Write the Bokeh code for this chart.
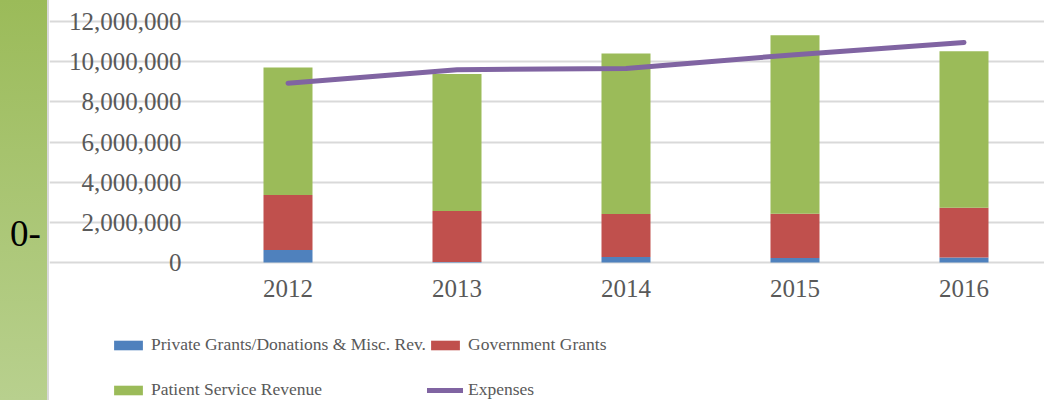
from bokeh.plotting import figure
from bokeh.layouts import row
from bokeh.models import (Range1d, FixedTicker, NumeralTickFormatter, Legend, LegendItem,
                          ColumnDataSource, Div)
from bokeh.embed import file_html
from bokeh.resources import INLINE

# ---- data ----
years = [2012, 2013, 2014, 2015, 2016]
private_grants = [620000, 30000, 280000, 230000, 250000]
government_grants = [2740000, 2530000, 2130000, 2200000, 2480000]
patient_service = [6350000, 6820000, 8000000, 8890000, 7790000]
expenses = [8930000, 9600000, 9660000, 10350000, 10960000]
y_ticks = [0, 2000000, 4000000, 6000000, 8000000, 10000000, 12000000]
series_names = ["Private Grants/Donations & Misc. Rev.", "Government Grants",
                "Patient Service Revenue", "Expenses"]
side_label = "0-"

colors = ["#4F81BD", "#C0504D", "#9BBB59"]
line_color = "#8064A2"
text_gray = "#595959"
grid_gray = "#D9D9D9"

# ---- layout constants (pixels) ----
STRIP_W = 49
FIG_W, FIG_H = 1044 - STRIP_W, 400
PLOT_LEFT, PLOT_TOP, PLOT_BOTTOM = 203 - STRIP_W, 21, 262   # inner plotting area inside the figure
CAT_STEP = 169                                               # pixels per category
y_max = y_ticks[-1]
y_per_px = y_max / (PLOT_BOTTOM - PLOT_TOP)
x0 = years[0] - 0.5
x_start = x0 - PLOT_LEFT / CAT_STEP
x_end = x0 + (FIG_W - PLOT_LEFT) / CAT_STEP
y_start = -(FIG_H - PLOT_BOTTOM) * y_per_px
y_end = y_max + PLOT_TOP * y_per_px

# ---- left decorative strip ----
left = Div(width=STRIP_W, height=FIG_H, margin=0,
           text=('<div style="position:absolute; left:10px; top:215px; font-family:\'Liberation Serif\';'
                 f' font-size:37px; line-height:1; color:black;">{side_label}</div>'),
           styles={"background": "linear-gradient(to bottom, rgb(155,187,89), rgb(184,208,142))",
                   "border-right": "2px solid #D9D9D9", "box-sizing": "border-box",
                   "margin": "0", "padding": "0", "overflow": "hidden"})

# ---- main chart ----
src = ColumnDataSource(dict(year=years, a=private_grants, b=government_grants,
                            c=patient_service, exp=expenses))
p = figure(width=FIG_W, height=FIG_H, margin=0,
           x_range=Range1d(x_start, x_end), y_range=Range1d(y_start, y_end),
           output_backend="svg", toolbar_location=None, min_border=0)
p.outline_line_color = None
bars = p.vbar_stack(["a", "b", "c"], x="year", width=0.29, source=src,
                    color=colors, line_color=None)
ln = p.line(x="year", y="exp", source=src, line_color=line_color, line_width=5,
            line_cap="round", line_join="round")

p.xaxis.ticker = FixedTicker(ticks=years)
p.yaxis.ticker = FixedTicker(ticks=y_ticks)
p.yaxis.formatter = NumeralTickFormatter(format="0,0")
p.xaxis.fixed_location = 0
p.yaxis.fixed_location = x0
for ax in (p.xaxis, p.yaxis):
    ax.axis_line_color = None
    ax.major_tick_line_color = None
    ax.minor_tick_line_color = None
    ax.major_tick_out = 0
    ax.major_tick_in = 0
    ax.major_label_text_font = "Liberation Serif"
    ax.major_label_text_font_size = "25px"
    ax.major_label_text_color = text_gray
p.yaxis.major_label_standoff = 22
p.xaxis.major_label_standoff = 17
p.xgrid.visible = False
p.ygrid.grid_line_color = grid_gray
p.ygrid.grid_line_width = 2
p.ygrid.ticker = FixedTicker(ticks=y_ticks)
p.ygrid.bounds = (x0, x_end + 2)

renderers = [bars[0], bars[1], bars[2], ln]
# legend entry positions relative to the figure's bottom-left corner
positions = [(110 - STRIP_W, 45), (427 - STRIP_W, 45), (110 - STRIP_W, 0), (427 - STRIP_W, 0)]
for name, r, loc in zip(series_names, renderers, positions):
    lg = Legend(items=[LegendItem(label=name, renderers=[r])], location=loc,
                glyph_width=36, glyph_height=12, label_standoff=5,
                label_text_font="Liberation Serif", label_text_font_size="17.5px",
                label_text_color=text_gray, padding=0, margin=0, spacing=0,
                border_line_alpha=0, background_fill_alpha=0, label_height=20)
    p.add_layout(lg, "center")

layout = row(left, p, spacing=0, margin=0)
open("out.html", "w").write(file_html(layout, INLINE))
